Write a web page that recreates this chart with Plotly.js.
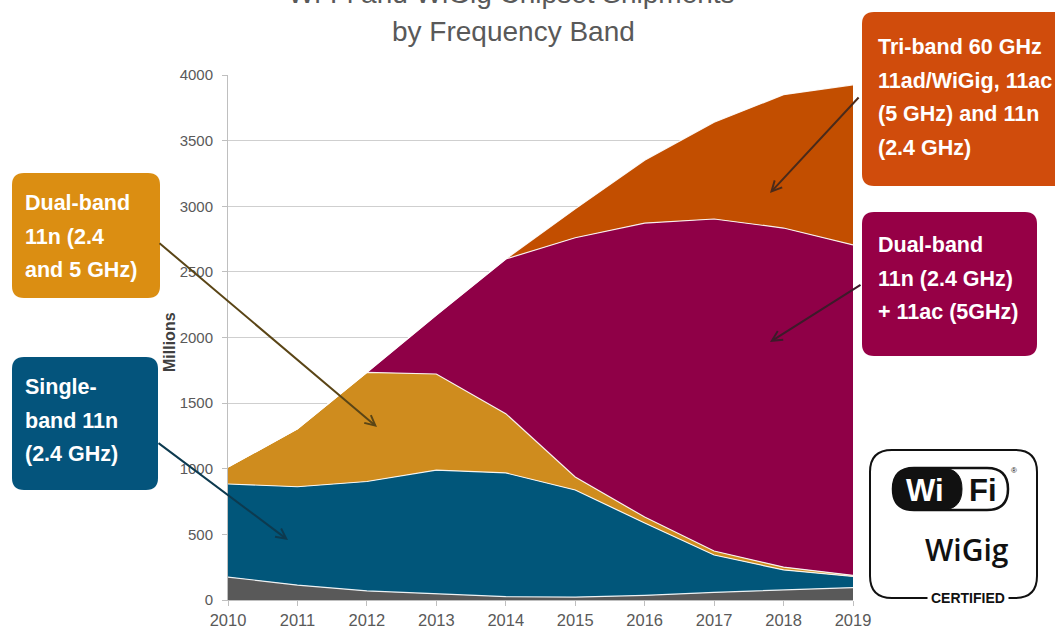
<!DOCTYPE html>
<html>
<head>
<meta charset="utf-8">
<script src="https://cdn.plot.ly/plotly-3.0.1.min.js"></script>
<style>
html,body{margin:0;padding:0;background:#fff;}
#chart{width:1055px;height:633px;}
</style>
</head>
<body>
<div id="chart"></div>
<script>
// ---- data (millions of units) ----
const years = [2010, 2011, 2012, 2013, 2014, 2015, 2016, 2017, 2018, 2019];
const legacy      = [175, 114, 69, 45, 25, 22, 35, 58, 76, 95];
const singleBand  = [709, 749, 834, 945, 943, 816, 552, 285, 153, 85];
const dualBand11n = [129, 442, 832, 732, 452, 99, 45, 30, 22, 8];
const dualBand11ac = [0, 0, 0, 449, 1178, 1823, 2240, 2530, 2583, 2517];
const triBand     = [0, 0, 0, 0, 0, 220, 478, 737, 1016, 1220];

const seriesNames = ['Other', 'Single-band 11n (2.4 GHz)', 'Dual-band 11n (2.4 and 5 GHz)',
  'Dual-band 11n (2.4 GHz) + 11ac (5GHz)', 'Tri-band 60 GHz 11ad/WiGig, 11ac (5 GHz) and 11n (2.4 GHz)'];
const seriesValues = [legacy, singleBand, dualBand11n, dualBand11ac, triBand];
const seriesColors = ['#595959', '#01567A', '#CF8C1E', '#8F0047', '#C24E00'];

const titleLine1 = 'Wi-Fi and WiGig Chipset Shipments';
const titleLine2 = 'by Frequency Band';
const yTitle = 'Millions';

const calloutLines = [
  ['Dual-band', '11n (2.4', 'and 5 GHz)'],
  ['Single-', 'band 11n', '(2.4 GHz)'],
  ['Tri-band 60 GHz', '11ad/WiGig, 11ac', '(5 GHz) and 11n', '(2.4 GHz)'],
  ['Dual-band', '11n (2.4 GHz)', '+ 11ac (5GHz)']
];

// ---- geometry helpers (layout only) ----
const W = 1055, H = 633, ML = 228, MR = 202, MT = 75, MB = 33;
const PW = W - ML - MR, PH = H - MT - MB;
const X = px => (px - ML) / PW;
const Y = py => (H - MB - py) / PH;
function rr(x0, y0, x1, y1, r) {
  return 'M' + X(x0 + r) + ',' + Y(y0) +
    ' L' + X(x1 - r) + ',' + Y(y0) +
    ' Q' + X(x1) + ',' + Y(y0) + ' ' + X(x1) + ',' + Y(y0 + r) +
    ' L' + X(x1) + ',' + Y(y1 - r) +
    ' Q' + X(x1) + ',' + Y(y1) + ' ' + X(x1 - r) + ',' + Y(y1) +
    ' L' + X(x0 + r) + ',' + Y(y1) +
    ' Q' + X(x0) + ',' + Y(y1) + ' ' + X(x0) + ',' + Y(y1 - r) +
    ' L' + X(x0) + ',' + Y(y0 + r) +
    ' Q' + X(x0) + ',' + Y(y0) + ' ' + X(x0 + r) + ',' + Y(y0) + ' Z';
}

const traces = seriesValues.map((v, i) => ({
  x: years, y: v, name: seriesNames[i], type: 'scatter', mode: 'lines',
  stackgroup: 'one', fillcolor: seriesColors[i],
  line: {color: 'rgba(255,255,255,0.9)', width: 1.2}, hoverinfo: 'skip'
}));

const SANS = '"Liberation Sans", Arial, sans-serif';

const boxes = [
  {b: [12, 173, 160, 298], c: '#DB8E12'},
  {b: [12, 357, 158, 490], c: '#04547C'},
  {b: [862, 12, 1080, 186], c: '#D04C0C'},
  {b: [862, 212, 1037, 356], c: '#960046'}
];
const shapes = boxes.map(o => ({
  type: 'path', xref: 'paper', yref: 'paper', path: rr(o.b[0], o.b[1], o.b[2], o.b[3], 12),
  fillcolor: o.c, line: {width: 0}
}));
// Wi-Fi / WiGig logo
shapes.push({type: 'path', xref: 'paper', yref: 'paper', path: rr(870, 450, 1037, 598, 22),
  fillcolor: 'rgba(0,0,0,0)', line: {color: '#111', width: 2}});
shapes.push({type: 'path', xref: 'paper', yref: 'paper', path: rr(893, 468, 1008, 510, 21),
  fillcolor: '#fff', line: {color: '#111', width: 2.5}});
shapes.push({type: 'path', xref: 'paper', yref: 'paper', path: rr(893, 468, 962, 510, 21),
  fillcolor: '#111', line: {color: '#111', width: 1}});

const annotations = [];
function txt(px, py, text, font, extra) {
  annotations.push(Object.assign({xref: 'paper', yref: 'paper', x: X(px), y: Y(py),
    xanchor: 'center', yanchor: 'middle', showarrow: false, text: text, font: font}, extra || {}));
}

const textPos = [
  {x: 23, y: 203}, {x: 23, y: 387}, {x: 876, y: 47}, {x: 876, y: 245}
];
const lineStep = 33.7;
calloutLines.forEach((lines, i) => lines.forEach((t, k) =>
  txt(textPos[i].x, textPos[i].y + k * lineStep, t,
    {family: SANS, size: 21.5, color: '#fff', weight: 'bold'}, {xanchor: 'left', align: 'left'})));

// arrows (head at data position, tail offset in pixels)
const arrows = [
  {x: 2012.146, y: 1318, ax: -219, ay: -185, c: '#5A4516'},
  {x: 2010.864, y: 457, ax: -131, ay: -98, c: '#0D3A4F'},
  {x: 2017.805, y: 3101, ax: 90, ay: -97, c: '#4A2A1A'},
  {x: 2017.805, y: 1966, ax: 92, ay: -58, c: '#3D1A2A'}
];
arrows.forEach(a => annotations.push({
  xref: 'x', yref: 'y', x: a.x, y: a.y, ax: a.ax, ay: a.ay, text: '', showarrow: true,
  arrowhead: 5, arrowsize: 1, arrowwidth: 2, arrowcolor: a.c, standoff: 0, startstandoff: 0
}));

// titles
txt(513, 31, titleLine2, {family: SANS, size: 28, color: '#595959'});
txt(511, -6, titleLine1, {family: SANS, size: 28, color: '#595959'});
txt(169, 342, yTitle, {family: SANS, size: 16, color: '#404040', weight: 'bold'}, {textangle: -90});

// logo texts
txt(925, 490, 'Wi', {family: SANS, size: 31, color: '#fff', weight: 'bold'});
txt(983, 490, 'Fi', {family: SANS, size: 31, color: '#111', weight: 'bold'});
txt(1014, 471, '®', {family: SANS, size: 8, color: '#111'});
txt(967, 549, 'WiGig', {family: '"Open Sans", sans-serif', size: 30, color: '#111', weight: 600});
txt(968, 598, 'CERTIFIED', {family: SANS, size: 14, color: '#111', weight: 'bold'}, {bgcolor: '#fff', borderpad: 3});

const layout = {
  width: W, height: H,
  margin: {l: ML, r: MR, t: MT, b: MB, pad: 0},
  paper_bgcolor: '#fff', plot_bgcolor: '#fff',
  showlegend: false,
  xaxis: {
    range: [2010, 2019], tickvals: years, ticktext: years.map(String),
    showgrid: false, zeroline: false, showline: true, linecolor: '#bfbfbf', linewidth: 1,
    ticks: 'outside', ticklen: 5, tickcolor: '#bfbfbf', ticklabelstandoff: 0,
    tickfont: {family: SANS, size: 16.5, color: '#595959'}
  },
  yaxis: {
    range: [0, 4000], dtick: 500, tick0: 0,
    showgrid: true, gridcolor: '#cfcfcf', gridwidth: 1, zeroline: false,
    showline: true, linecolor: '#bfbfbf', linewidth: 1,
    ticks: 'outside', ticklen: 5, tickcolor: '#bfbfbf', ticklabelstandoff: 6,
    tickfont: {family: SANS, size: 15, color: '#595959'}
  },
  shapes: shapes,
  annotations: annotations
};

Plotly.newPlot('chart', traces, layout, {displayModeBar: false, staticPlot: true});
</script>
</body>
</html>
